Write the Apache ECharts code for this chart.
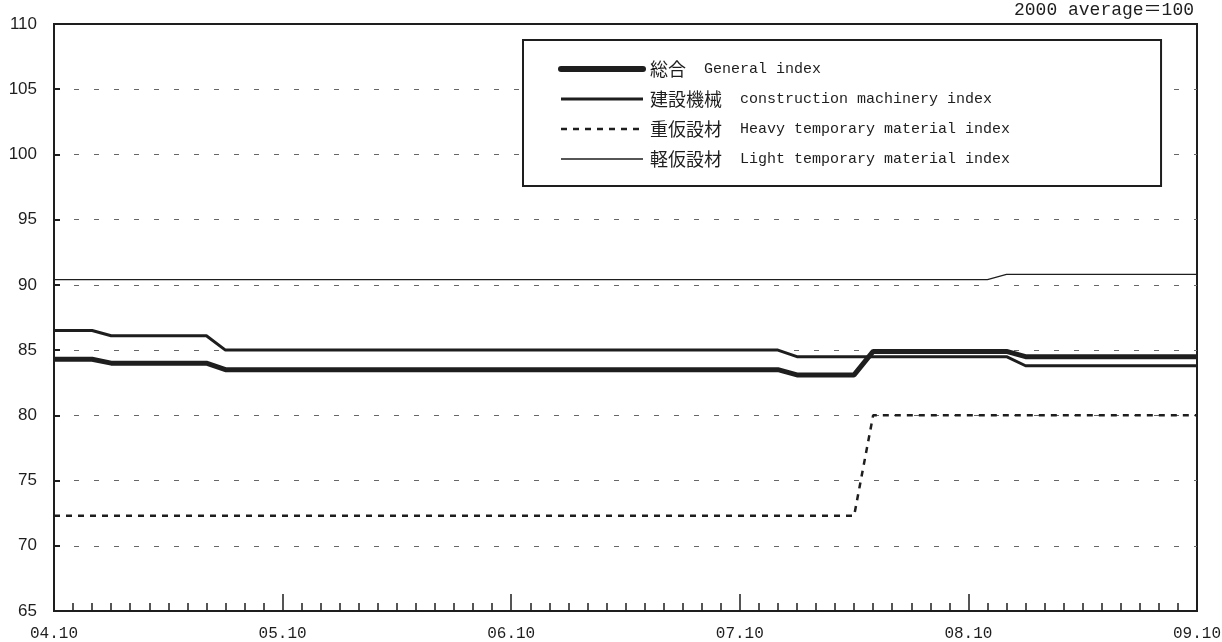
<!DOCTYPE html>
<html>
<head>
<meta charset="utf-8">
<script src="https://cdn.jsdelivr.net/npm/echarts@6/dist/echarts.min.js"></script>
<style>
html,body{margin:0;padding:0;background:#fff;}
#c{width:1222px;height:642px;}
</style>
</head>
<body>
<div id="c"></div>
<script>
// x tick labels (one per year, 12 months apart)
var xTickLabels = ['04.10','05.10','06.10','07.10','08.10','09.10'];
// monthly values, 04.10 .. 09.10 (61 months)
var generalIdx = [
  84.3,84.3,84.3,84.0,84.0,84.0,84.0,84.0,84.0,83.5,83.5,83.5,
  83.5,83.5,83.5,83.5,83.5,83.5,83.5,83.5,83.5,83.5,83.5,83.5,
  83.5,83.5,83.5,83.5,83.5,83.5,83.5,83.5,83.5,83.5,83.5,83.5,
  83.5,83.5,83.5,83.1,83.1,83.1,83.1,84.9,84.9,84.9,84.9,84.9,
  84.9,84.9,84.9,84.5,84.5,84.5,84.5,84.5,84.5,84.5,84.5,84.5,
  84.5
];
var constructionIdx = [
  86.5,86.5,86.5,86.1,86.1,86.1,86.1,86.1,86.1,85.0,85.0,85.0,
  85.0,85.0,85.0,85.0,85.0,85.0,85.0,85.0,85.0,85.0,85.0,85.0,
  85.0,85.0,85.0,85.0,85.0,85.0,85.0,85.0,85.0,85.0,85.0,85.0,
  85.0,85.0,85.0,84.5,84.5,84.5,84.5,84.5,84.5,84.5,84.5,84.5,
  84.5,84.5,84.5,83.8,83.8,83.8,83.8,83.8,83.8,83.8,83.8,83.8,
  83.8
];
var heavyIdx = [
  72.3,72.3,72.3,72.3,72.3,72.3,72.3,72.3,72.3,72.3,72.3,72.3,
  72.3,72.3,72.3,72.3,72.3,72.3,72.3,72.3,72.3,72.3,72.3,72.3,
  72.3,72.3,72.3,72.3,72.3,72.3,72.3,72.3,72.3,72.3,72.3,72.3,
  72.3,72.3,72.3,72.3,72.3,72.3,72.3,80.0,80.0,80.0,80.0,80.0,
  80.0,80.0,80.0,80.0,80.0,80.0,80.0,80.0,80.0,80.0,80.0,80.0,
  80.0
];
var lightIdx = [
  90.4,90.4,90.4,90.4,90.4,90.4,90.4,90.4,90.4,90.4,90.4,90.4,
  90.4,90.4,90.4,90.4,90.4,90.4,90.4,90.4,90.4,90.4,90.4,90.4,
  90.4,90.4,90.4,90.4,90.4,90.4,90.4,90.4,90.4,90.4,90.4,90.4,
  90.4,90.4,90.4,90.4,90.4,90.4,90.4,90.4,90.4,90.4,90.4,90.4,
  90.4,90.4,90.8,90.8,90.8,90.8,90.8,90.8,90.8,90.8,90.8,90.8,
  90.8
];
var seriesJa = ['総合','建設機械','重仮設材','軽仮設材'];
var seriesEn = ['General index','construction machinery index','Heavy temporary material index','Light temporary material index'];
var noteText = '2000 average＝100';

var INK = '#1e1e1e';
var MONO = "'Liberation Mono','Noto Sans CJK JP',monospace";
var CJK = "'Noto Sans CJK JP',sans-serif";
var SANS = "'Liberation Sans Narrow','Liberation Sans',sans-serif";

function pairs(arr){ return arr.map(function(v,i){ return [i, v]; }); }
var names = seriesJa.map(function(j,i){ return j + ' ' + seriesEn[i]; });

var chart = echarts.init(document.getElementById('c'), null, {renderer:'canvas'});
chart.setOption({
  animation:false,
  backgroundColor:'#fff',
  title:{
    text:noteText, right:28, top:1, padding:0,
    textStyle:{fontFamily:MONO, fontSize:18, fontWeight:'normal', color:INK}
  },
  grid:{
    left:54, right:25, top:24, bottom:31,
    show:true, borderColor:INK, borderWidth:2, backgroundColor:'transparent',
    outerBoundsMode:'none'
  },
  legend:{
    orient:'vertical', left:523, top:40,
    padding:[20,151,18,35],
    backgroundColor:'#fff',
    borderColor:INK, borderWidth:2,
    itemWidth:82, itemHeight:14, itemGap:12,
    selectedMode:false,
    itemStyle:{opacity:0},
    data:[
      {name:names[0], itemStyle:{opacity:0}, lineStyle:{width:6, cap:'round', color:INK}},
      {name:names[1], itemStyle:{opacity:0}, lineStyle:{width:3, color:INK}},
      {name:names[2], itemStyle:{opacity:0}, lineStyle:{width:2.5, type:[6,6], color:INK}},
      {name:names[3], itemStyle:{opacity:0}, lineStyle:{width:1.5, color:INK}}
    ],
    formatter:function(n){
      var i = names.indexOf(n);
      return '{ja|' + seriesJa[i] + '\u3000}{en|' + seriesEn[i] + '}';
    },
    textStyle:{
      color:INK,
      rich:{
        ja:{fontFamily:CJK, fontSize:18, lineHeight:20, color:INK, padding:[0,0,0,2]},
        en:{fontFamily:MONO, fontSize:15, lineHeight:20, color:INK}
      }
    }
  },
  xAxis:{
    type:'value', min:0, max:60, interval:12,
    axisLine:{show:true, onZero:false, lineStyle:{color:INK, width:2}},
    axisTick:{show:true, inside:true, length:17, lineStyle:{color:INK, width:1.5}},
    minorTick:{show:true, splitNumber:12, length:8, lineStyle:{color:INK, width:1.5}},
    splitLine:{show:false},
    minorSplitLine:{show:false},
    axisLabel:{
      margin:15, fontFamily:MONO, fontSize:16, color:INK,
      formatter:function(v){ return xTickLabels[Math.round(v/12)]; }
    }
  },
  yAxis:{
    type:'value', min:65, max:110, interval:5,
    axisLine:{show:true, onZero:false, lineStyle:{color:INK, width:2}},
    axisTick:{show:true, inside:true, length:6, lineStyle:{color:INK, width:2}},
    splitLine:{show:true, showMinLine:false, showMaxLine:false,
      lineStyle:{color:'#666', width:1, type:[5,15]}},
    axisLabel:{margin:17, fontFamily:SANS, fontSize:17, color:INK}
  },
  series:[
    {name:names[3], type:'line', data:pairs(lightIdx), symbol:'none',
      lineStyle:{color:INK, width:1.2}, itemStyle:{color:INK}},
    {name:names[2], type:'line', data:pairs(heavyIdx), symbol:'none',
      lineStyle:{color:INK, width:2.5, type:[6,6]}, itemStyle:{color:INK}},
    {name:names[1], type:'line', data:pairs(constructionIdx), symbol:'none',
      lineStyle:{color:INK, width:3}, itemStyle:{color:INK}},
    {name:names[0], type:'line', data:pairs(generalIdx), symbol:'none',
      lineStyle:{color:INK, width:5}, itemStyle:{color:INK}}
  ]
});
</script>
</body>
</html>
